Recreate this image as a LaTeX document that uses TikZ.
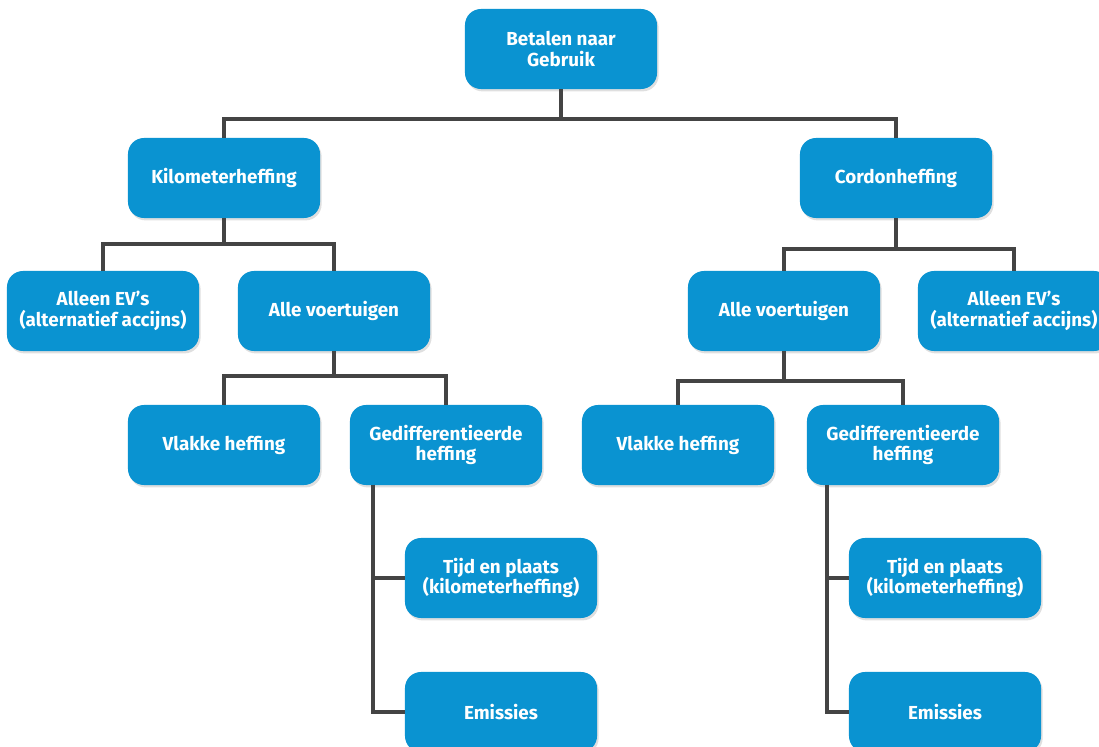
\documentclass[tikz,border=0pt]{standalone}
\usepackage{fontspec}
\setmainfont{Fira Sans}
\usepackage{xcolor}
\usepackage{tikz}
\usetikzlibrary{shadows}

\definecolor{boxblue}{HTML}{0A93D1}
\definecolor{linegray}{HTML}{444444}

\begin{document}
\begin{tikzpicture}[
  x=0.025cm, y=-0.025cm,
  box/.style={fill=boxblue, rounded corners=0.4cm, minimum width=4.8cm, minimum height=2cm,
    align=center, text=white, font=\fontsize{13.4}{14.5}\selectfont\bfseries,
    drop shadow={shadow xshift=0.04cm, shadow yshift=-0.06cm, opacity=0.25}},
  conn/.style={draw=linegray, line width=3.5pt}
]
\useasboundingbox (0,0) rectangle (1099,747);
\clip (0,0) rectangle (1099,747);
% top level
\node[box] (root) at (561,49) {Betalen naar\\ Gebruik};
\node[box] (km) at (224,178) {Kilometerheffing};
\node[box] (cordon) at (896,178) {Cordonheffing};
% second level
\node[box] (kmev) at (103,311) {Alleen EV's\\(alternatief accijns)};
\node[box] (kmall) at (334,311) {Alle voertuigen};
\node[box] (coall) at (784,311) {Alle voertuigen};
\node[box] (coev) at (1014,311) {Alleen EV's\\(alternatief accijns)};
% third level
\node[box] (kmflat) at (224,445) {Vlakke heffing};
\node[box] (kmdiff) at (446,445) {Gedifferentieerde\\heffing};
\node[box] (coflat) at (678,445) {Vlakke heffing};
\node[box] (codiff) at (903,445) {Gedifferentieerde\\heffing};
% fourth level
\node[box] (kmtime) at (501,578) {Tijd en plaats\\(kilometerheffing)};
\node[box] (kmemis) at (501,712) {Emissies};
\node[box] (cotime) at (945,578) {Tijd en plaats\\(kilometerheffing)};
\node[box] (coemis) at (945,712) {Emissies};

% junctions
\coordinate (j0) at (561,119);
\coordinate (j1) at (224,244);
\coordinate (j2) at (896,249);
\coordinate (j3) at (334,376);
\coordinate (j4) at (784,381);
\coordinate (j5) at (373,485);
\coordinate (j6) at (827,485);

\path[conn] (root) -- (j0) -| (km);
\path[conn] (j0) -| (cordon);
\path[conn] (km) -- (j1) -| (kmev);
\path[conn] (j1) -| (kmall);
\path[conn] (cordon) -- (j2) -| (coall);
\path[conn] (j2) -| (coev);
\path[conn] (kmall) -- (j3) -| (kmflat);
\path[conn] (j3) -| (kmdiff);
\path[conn] (coall) -- (j4) -| (coflat);
\path[conn] (j4) -| (codiff);
\path[conn] (j5) |- (kmemis);
\path[conn] (j5) |- (kmtime);
\path[conn] (j6) |- (coemis);
\path[conn] (j6) |- (cotime);
\end{tikzpicture}
\end{document}
